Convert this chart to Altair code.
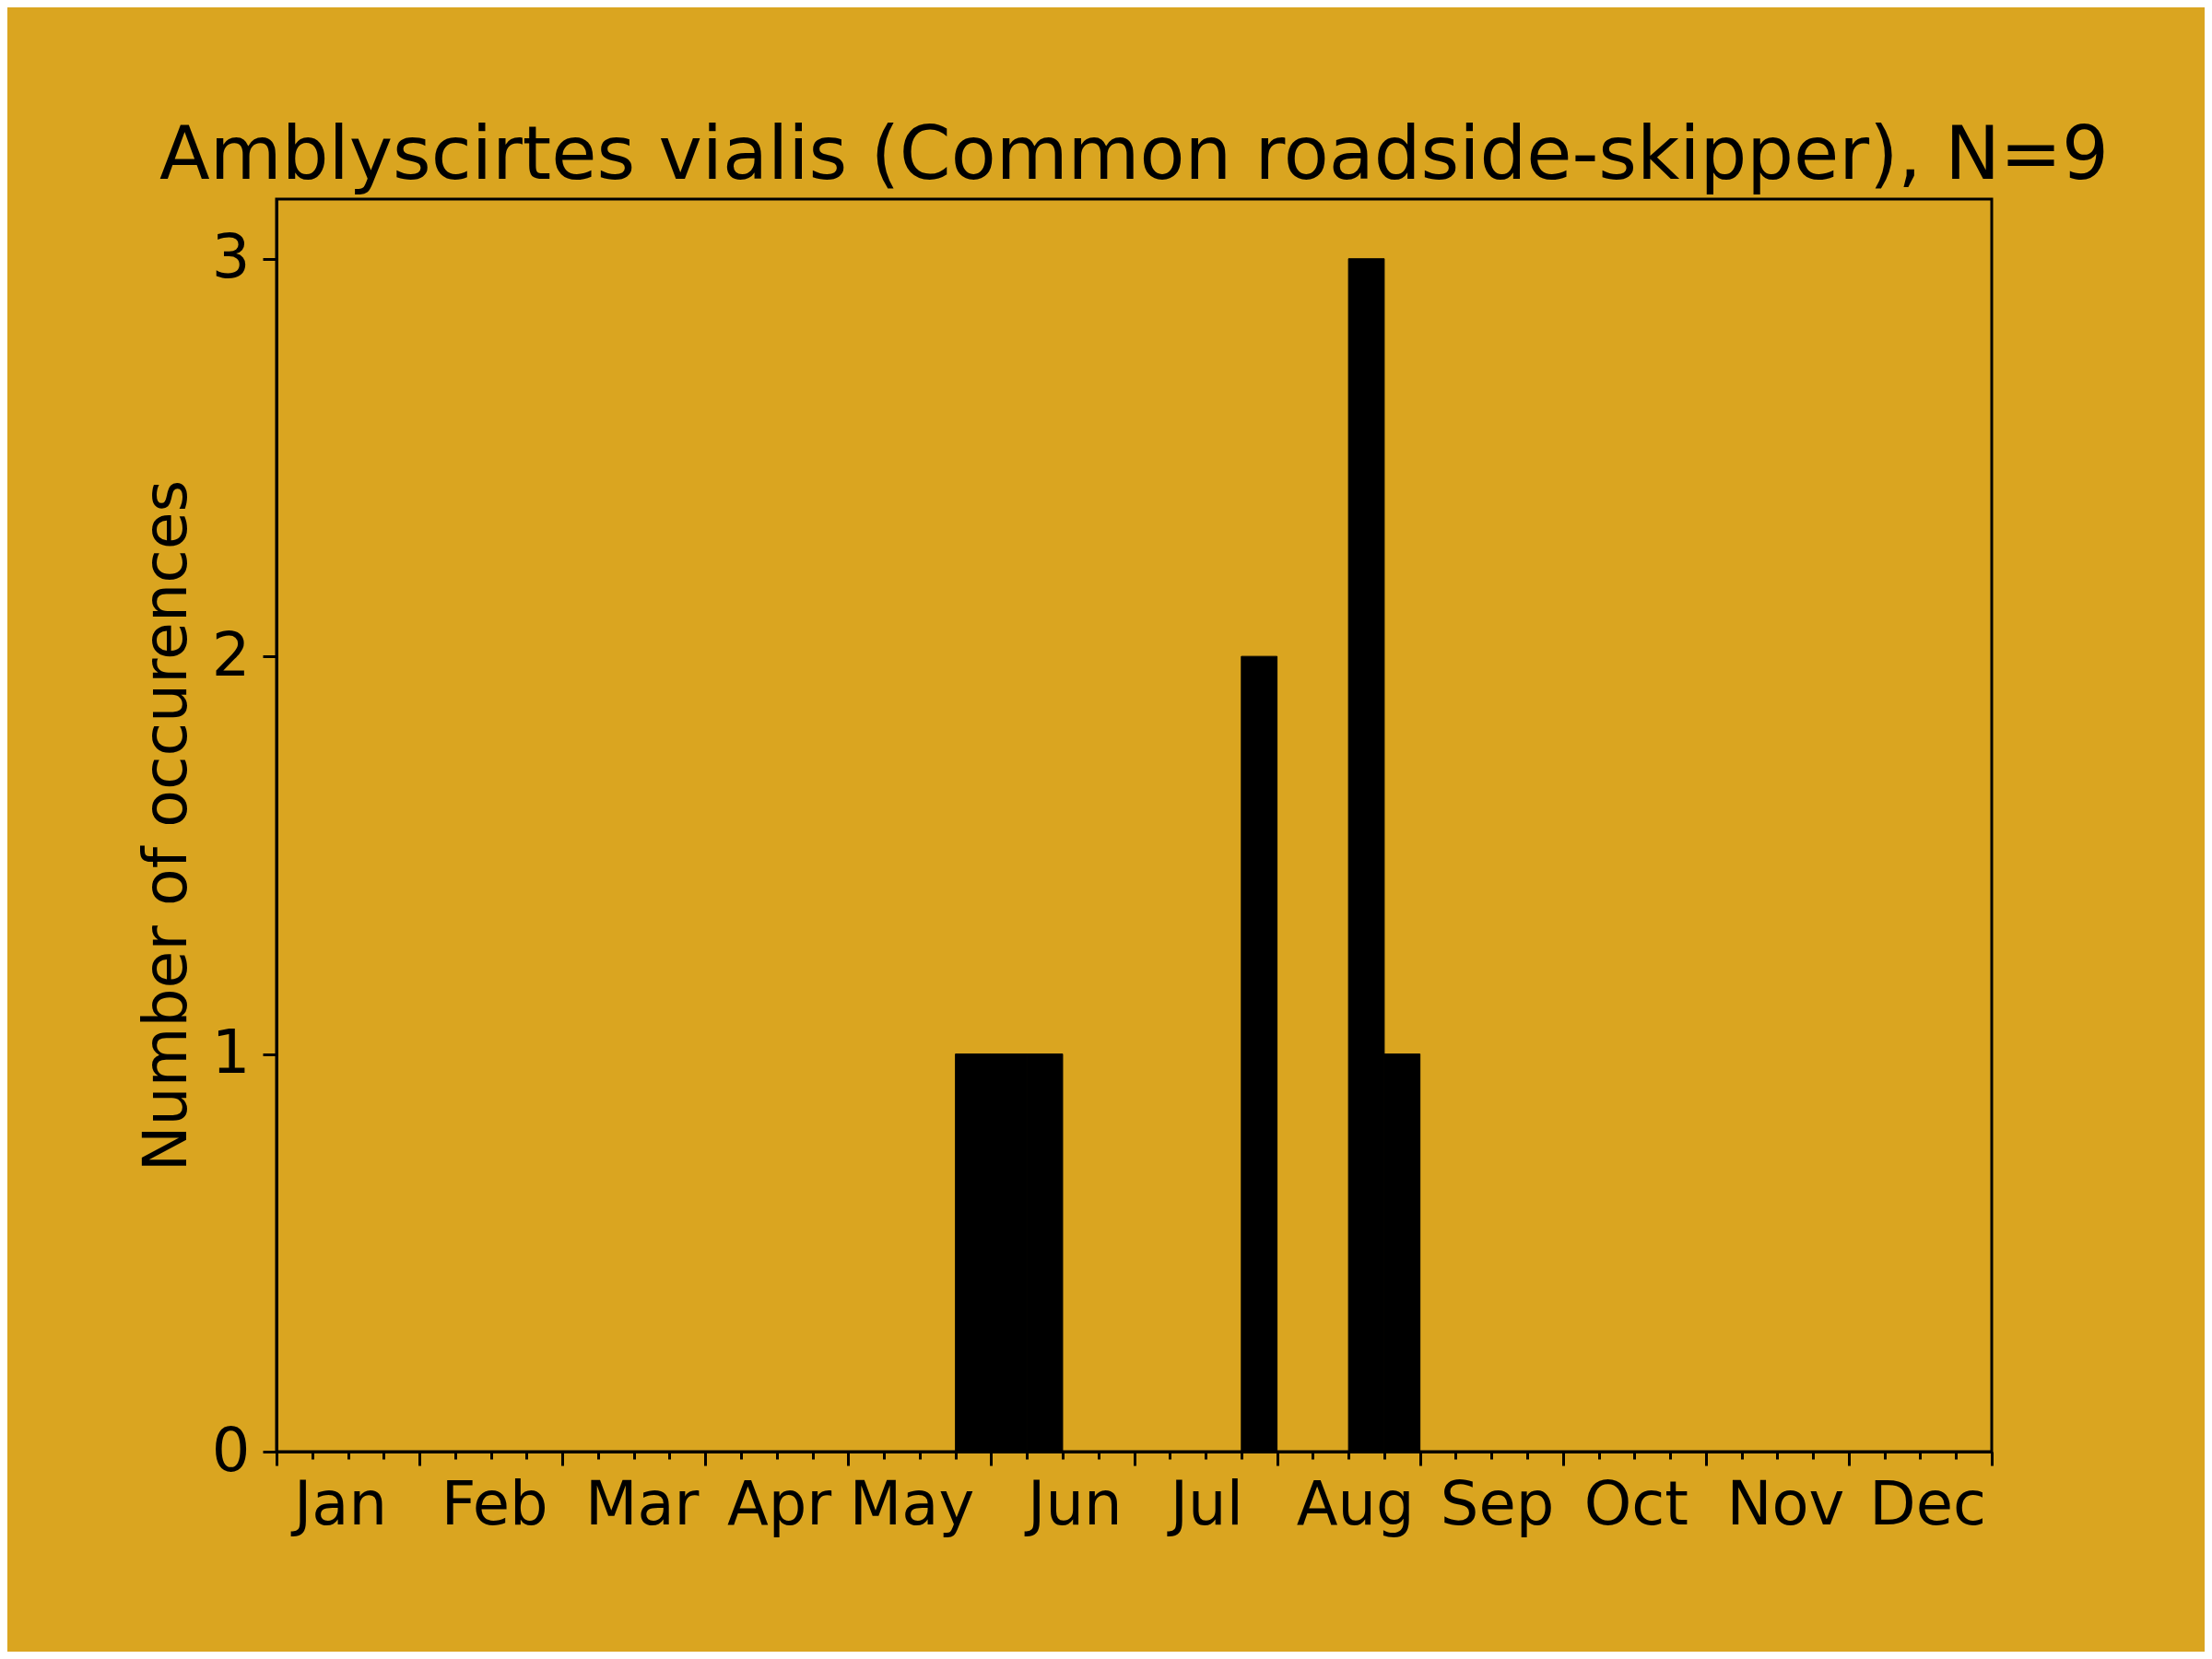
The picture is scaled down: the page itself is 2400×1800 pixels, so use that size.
import altair as alt
import pandas as pd

# ---- data ----
months = ["Jan", "Feb", "Mar", "Apr", "May", "Jun",
          "Jul", "Aug", "Sep", "Oct", "Nov", "Dec"]
# label positions in bin units (4 bins per month)
label_pos = [1.78, 6.09, 10.22, 14.06, 17.77, 22.33,
             26.02, 30.18, 34.15, 38.04, 42.22, 46.2]
# 48 bins (4 per month)
counts = [0, 0, 0, 0, 0, 0, 0, 0, 0, 0, 0, 0,
          0, 0, 0, 0, 0, 0, 0, 1, 1, 1, 0, 0,
          0, 0, 0, 2, 0, 0, 3, 1, 0, 0, 0, 0,
          0, 0, 0, 0, 0, 0, 0, 0, 0, 0, 0, 0]
y_ticks = [0, 1, 2, 3]
title_text = "Amblyscirtes vialis (Common roadside-skipper), N=9"
y_title = "Number of occurences"

df = pd.DataFrame({
    "start": list(range(len(counts))),
    "end": [i + 1 for i in range(len(counts))],
    "count": counts,
})

edges = list(range(len(counts) + 1))
axis_values = sorted(edges + label_pos)
month_arr = "[" + ",".join(f"'{m}'" for m in months) + "]"
label_expr = f"datum.value % 1 === 0 ? '' : {month_arr}[floor(datum.value / 4)]"

FONT = "DejaVu Sans"
FS = 65.5

x_axis = alt.Axis(
    values=axis_values, labelExpr=label_expr, title=None, grid=False,
    tickSize={"condition": [{"test": "datum.value % 4 === 0", "value": 15},
                            {"test": "datum.value % 1 === 0", "value": 8}],
              "value": 0},
    tickWidth=3, tickColor="black", domainColor="black", domainWidth=3,
    labelFontSize=FS, labelFont=FONT, labelColor="black", labelPadding=26,
    labelOverlap=False, labelFlush=False, labelBound=False, labelAngle=0,
)

y_axis = alt.Axis(
    values=y_ticks, format="d", grid=False,
    tickSize=15, tickWidth=3, tickColor="black",
    domainColor="black", domainWidth=3,
    labelFontSize=FS, labelFont=FONT, labelColor="black", labelPadding=14,
    title=y_title, titleFontSize=66.5, titleFont=FONT, titleFontWeight="normal",
    titleColor="black", titleAngle=-90, titleX=-99, titleY=679.5,
    titleBaseline="alphabetic", titleAlign="center",
)

chart = alt.Chart(df).transform_filter(
    "datum.count > 0"
).mark_rect(color="black", stroke="black", strokeWidth=1).encode(
    x=alt.X("start:Q", scale=alt.Scale(domain=[0, 48], nice=False, zero=False), axis=x_axis),
    x2="end:Q",
    y=alt.Y("count:Q", scale=alt.Scale(domain=[0, 3.15], nice=False), axis=y_axis),
    y2=alt.datum(0),
).properties(
    width=1861, height=1359,
    title=alt.TitleParams(text=title_text, fontSize=80, font=FONT, fontWeight="normal",
                          color="black", anchor="middle", baseline="alphabetic", offset=-58),
    autosize=alt.AutoSizeParams(type="none"),
    padding={"left": 292, "top": 208, "right": 231, "bottom": 217},
    background="#DAA520",
).configure_view(
    stroke="black", strokeWidth=3,
)

chart.save("out.html", embed_options={"renderer": "svg", "actions": False})
